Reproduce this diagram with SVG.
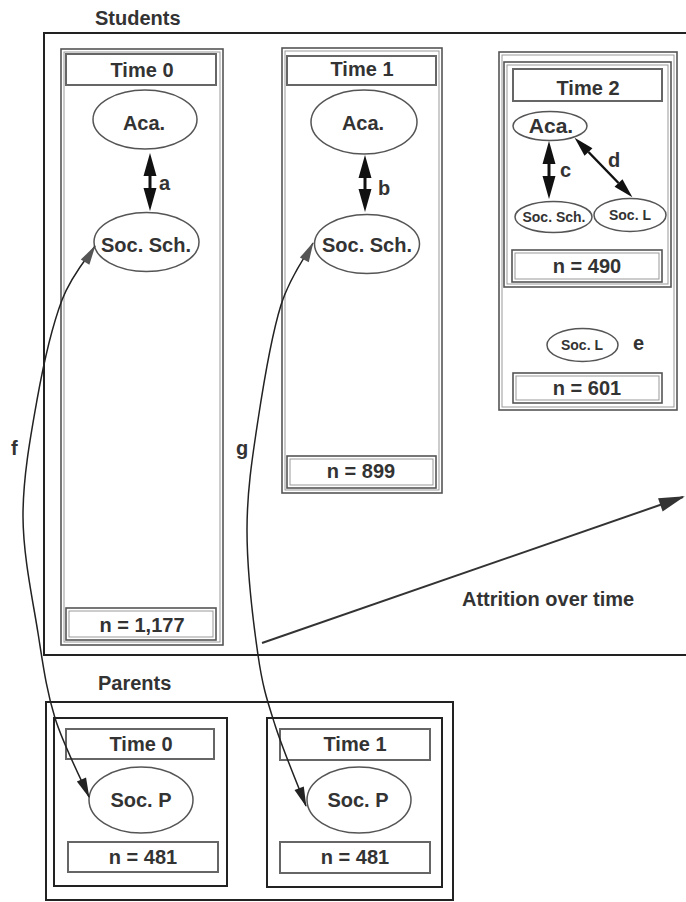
<svg xmlns="http://www.w3.org/2000/svg" width="686" height="902" viewBox="0 0 686 902">
<style>
text{font-family:"Liberation Sans",Arial,sans-serif;font-weight:bold;fill:#333;font-size:20px}
.m{text-anchor:middle}
.sm{font-size:14px}
.big{font-size:21px}
.outer{fill:none;stroke:#222;stroke-width:2}
.col{fill:none;stroke:#555;stroke-width:1.6}
.coli{fill:none;stroke:#999;stroke-width:1}
.lbl{fill:none;stroke:#666;stroke-width:2}
.pbox{fill:none;stroke:#222;stroke-width:2}
.ell{fill:#fff;stroke:#555;stroke-width:1.5}
.bi{stroke:#111;stroke-width:3;fill:none}
.cur{stroke:#222;stroke-width:1.5;fill:none}
</style>
<defs>
<marker id="hb" markerUnits="userSpaceOnUse" markerWidth="24" markerHeight="14" refX="0" refY="6.5" orient="auto-start-reverse" overflow="visible"><path d="M0,0 L23,6.5 L0,13 z" fill="#111"/></marker>
<marker id="hs" markerUnits="userSpaceOnUse" markerWidth="22" markerHeight="12" refX="0" refY="5.5" orient="auto-start-reverse" overflow="visible"><path d="M0,0 L20,5.5 L0,11 z" fill="#111"/></marker>
<marker id="hg" markerUnits="userSpaceOnUse" markerWidth="22" markerHeight="12" refX="19" refY="5" orient="auto-start-reverse" overflow="visible"><path d="M0,0 L20,5 L0,10 z" fill="#555"/></marker>
<marker id="hk" markerUnits="userSpaceOnUse" markerWidth="22" markerHeight="12" refX="19" refY="5" orient="auto" overflow="visible"><path d="M0,0 L20,5 L0,10 z" fill="#222"/></marker>
<marker id="ha" markerUnits="userSpaceOnUse" markerWidth="28" markerHeight="16" refX="24" refY="7" orient="auto" overflow="visible"><path d="M0,0 L26,7 L0,14 z" fill="#333"/></marker>
</defs>

<g id="students">
<text x="95" y="25">Students</text>
<rect class="outer" x="44" y="33" width="660" height="622"/>
</g>

<g id="time0">
<rect class="col" x="61" y="49" width="162" height="596"/>
<rect class="coli" x="64" y="52" width="156" height="590"/>
<rect class="lbl" x="66" y="54" width="150" height="31"/>
<text class="m" x="142" y="77">Time 0</text>
<rect class="col" x="66" y="608" width="150" height="32"/>
<rect class="coli" x="69" y="611" width="144" height="26"/>
<text class="m" x="142" y="632">n = 1,177</text>
</g>
<g id="aca0"><ellipse class="ell" cx="145" cy="119.5" rx="52" ry="29.5"/><text class="m" x="144" y="130">Aca.</text></g>
<g id="soc0"><ellipse class="ell" cx="146.5" cy="242" rx="52.5" ry="29.5"/><text class="m" x="146" y="252">Soc. Sch.</text></g>

<g id="time1">
<rect class="col" x="282" y="48" width="160" height="445"/>
<rect class="coli" x="285" y="51" width="154" height="439"/>
<rect class="lbl" x="287" y="56" width="149" height="29"/>
<text class="m" x="362" y="76">Time 1</text>
<rect class="col" x="287" y="456" width="149" height="32"/>
<rect class="coli" x="290" y="459" width="143" height="26"/>
<text class="m" x="361" y="478">n = 899</text>
</g>
<g id="aca1"><ellipse class="ell" cx="364" cy="122" rx="53" ry="32"/><text class="m" x="363" y="130">Aca.</text></g>
<g id="soc1"><ellipse class="ell" cx="367" cy="244" rx="52.5" ry="29.5"/><text class="m" x="367" y="252">Soc. Sch.</text></g>

<g id="time2">
<rect class="col" x="499" y="52" width="178" height="358"/>
<rect class="coli" x="502" y="55" width="172" height="352"/>
<rect class="col" x="504" y="62" width="167" height="225"/>
<rect class="coli" x="507" y="65" width="161" height="219"/>
<rect class="lbl" x="513" y="69" width="149" height="32"/>
<text class="m" x="588" y="95">Time 2</text>
<rect class="col" x="512" y="250" width="150" height="32"/>
<rect class="coli" x="515" y="253" width="144" height="26"/>
<text class="m" x="587" y="273">n = 490</text>
<rect class="col" x="513" y="373" width="149" height="30"/>
<rect class="coli" x="516" y="376" width="143" height="24"/>
<text class="m" x="587" y="395">n = 601</text>
</g>
<g id="aca2"><ellipse class="ell" cx="550" cy="126" rx="37" ry="14.5"/><text class="m big" x="551" y="133">Aca.</text></g>
<g id="socsch2"><ellipse class="ell" cx="553.5" cy="217" rx="38.5" ry="15.5"/><text class="m sm" x="554" y="222">Soc. Sch.</text></g>
<g id="socl2"><ellipse class="ell" cx="630" cy="215" rx="36" ry="16.5"/><text class="m sm" x="630" y="220">Soc. L</text></g>
<g id="socle"><ellipse class="ell" cx="582.5" cy="345" rx="35.5" ry="16.5"/><text class="m sm" x="582" y="350">Soc. L</text><text x="633" y="350">e</text></g>

<g id="parents">
<text x="98" y="690">Parents</text>
<rect class="outer" x="46" y="702" width="407" height="198"/>
</g>
<g id="ptime0">
<rect class="pbox" x="54" y="718" width="173" height="168"/>
<rect class="lbl" x="66" y="729" width="148" height="30"/>
<text class="m" x="141" y="751">Time 0</text>
<rect class="lbl" x="68" y="842" width="150" height="30"/>
<text class="m" x="143" y="864">n = 481</text>
</g>
<g id="socp0"><ellipse class="ell" cx="141" cy="800" rx="52" ry="33"/><text class="m" x="141" y="807">Soc. P</text></g>
<g id="ptime1">
<rect class="pbox" x="267" y="718" width="175" height="169"/>
<rect class="lbl" x="280" y="729" width="150" height="31"/>
<text class="m" x="355" y="751">Time 1</text>
<rect class="lbl" x="280" y="842" width="150" height="31"/>
<text class="m" x="355" y="864">n = 481</text>
</g>
<g id="socp1"><ellipse class="ell" cx="359" cy="800" rx="52" ry="33"/><text class="m" x="358" y="807">Soc. P</text></g>

<g id="connectors">
<line class="bi" x1="150" y1="176" x2="150" y2="188" marker-start="url(#hb)" marker-end="url(#hb)"/>
<text x="159" y="190">a</text>
<line class="bi" x1="365" y1="178" x2="365" y2="189" marker-start="url(#hb)" marker-end="url(#hb)"/>
<text x="378" y="195">b</text>
<line class="bi" x1="549" y1="164" x2="549" y2="176" marker-start="url(#hb)" marker-end="url(#hb)"/>
<text x="560" y="177">c</text>
<line stroke="#111" stroke-width="2.5" x1="588.5" y1="152" x2="618.5" y2="183" marker-start="url(#hs)" marker-end="url(#hs)"/>
<text x="608" y="167">d</text>
<path class="cur" d="M95,246 C89.5,255 71.7,274.3 62,300 C52.3,325.7 43.5,363.8 37,400 C30.5,436.2 22.8,478.2 23,517 C23.2,555.8 32.7,599.5 38,633 C43.3,666.5 46.5,690.7 55,718 C63.5,745.3 83.3,783.8 89,797" marker-start="url(#hg)" marker-end="url(#hk)"/>
<text x="11" y="455">f</text>
<path class="cur" d="M313,243 C307.7,253.3 290.2,275.5 281,305 C271.8,334.5 263.7,382.5 258,420 C252.3,457.5 247,490.8 247,530 C247,569.2 253.3,622.5 258,655 C262.7,687.5 267,699.8 275,725 C283,750.2 300.8,792.5 306,806" marker-start="url(#hg)" marker-end="url(#hk)"/>
<text x="236" y="455">g</text>
<line stroke="#333" stroke-width="2" x1="262" y1="643" x2="683" y2="497" marker-end="url(#ha)"/>
<text x="462" y="606">Attrition over time</text>
</g>
</svg>
